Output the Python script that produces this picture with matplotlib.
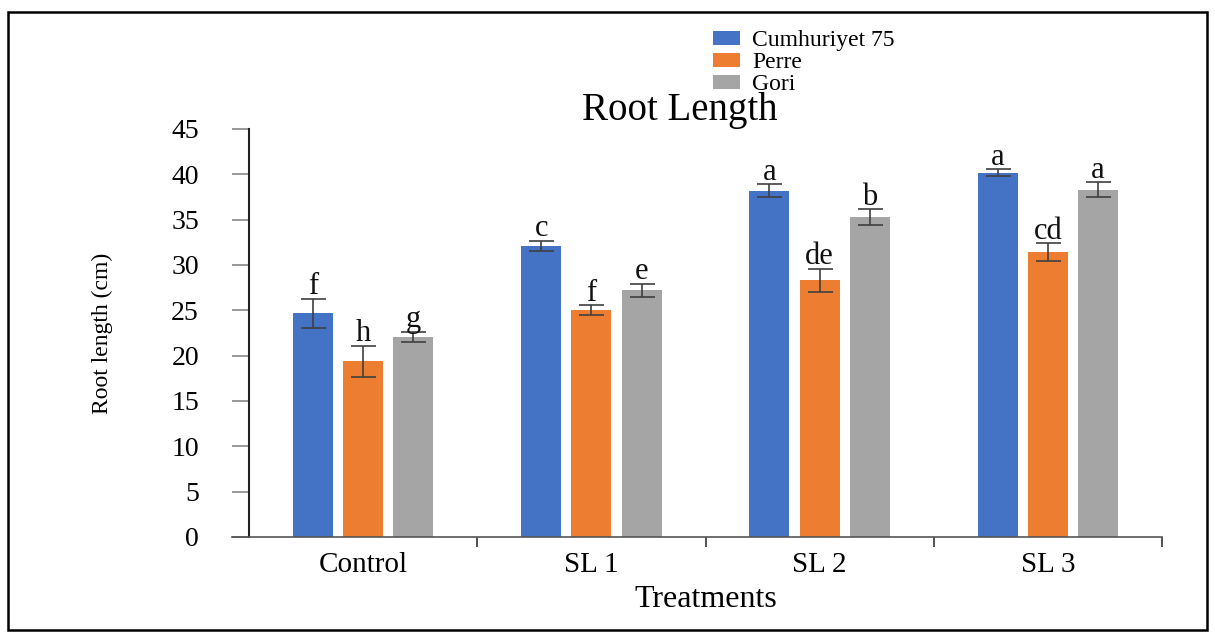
import numpy as np
import matplotlib
matplotlib.use('Agg')
from matplotlib import pyplot as plt
from matplotlib.patches import Rectangle

plt.rcParams['font.family'] = ['Liberation Serif', 'DejaVu Serif']

# data
treatments = ['Control', 'SL 1', 'SL 2', 'SL 3']
series = ['Cumhuriyet 75', 'Perre', 'Gori']
cumhuriyet = [24.7, 32.1, 38.2, 40.2]
perre = [19.4, 25.0, 28.3, 31.4]
gori = [22.1, 27.2, 35.3, 38.3]
cumhuriyet_err = [1.6, 0.6, 0.7, 0.35]
perre_err = [1.7, 0.55, 1.3, 1.0]
gori_err = [0.55, 0.75, 0.85, 0.85]
cumhuriyet_lbl = ['f', 'c', 'a', 'a']
perre_lbl = ['h', 'f', 'de', 'cd']
gori_lbl = ['g', 'e', 'b', 'a']

colors = ['#4472C4', '#ED7D31', '#A5A5A5']

fig = plt.figure(figsize=(12.15, 6.35), dpi=100)
ax = fig.add_axes([249 / 1215, 1 - 537 / 635, 913 / 1215, 408 / 635])

x = np.arange(len(treatments))
w = 0.175
off = 0.22
vals = [cumhuriyet, perre, gori]
errs = [cumhuriyet_err, perre_err, gori_err]
lbls = [cumhuriyet_lbl, perre_lbl, gori_lbl]
for i in range(3):
    xs = x + (i - 1) * off
    ax.bar(xs, vals[i], w, color=colors[i], label=series[i], zorder=2)
    ax.errorbar(xs, vals[i], yerr=errs[i], fmt='none', ecolor='#404040',
                elinewidth=1.2, capsize=9, capthick=1.2, zorder=3)
    for xx, v, e, t in zip(xs, vals[i], errs[i], lbls[i]):
        ax.text(xx, v + e - 0.3, t, ha='center', va='bottom', fontsize=22,
                color='#111111', zorder=4)

ax.set_xlim(-0.5, 3.5)
ax.set_ylim(0, 45)
ax.set_yticks(np.arange(0, 46, 5))
ax.set_xticks(x)
ax.set_xticklabels(treatments)
ax.set_xticks([0.5, 1.5, 2.5, 3.5], minor=True)

ax.spines['top'].set_visible(False)
ax.spines['right'].set_visible(False)
ax.spines['left'].set_color('#222222')
ax.spines['left'].set_linewidth(1.5)
ax.spines['bottom'].set_color('#555555')
ax.spines['bottom'].set_linewidth(1.2)
ax.spines['bottom'].set_bounds(-0.5 - 0.075, 3.5)

ax.tick_params(axis='y', length=12, width=1.2, color='#888888', pad=24,
               labelsize=20)
ax.tick_params(axis='x', which='major', length=0, pad=11, labelsize=21)
ax.tick_params(axis='x', which='minor', length=7, width=1.2, color='#333333')

ax.set_xlabel('Treatments', fontsize=23, labelpad=5)
ax.set_ylabel('Root length (cm)', fontsize=17, labelpad=42)
ax.set_title('Root Length', fontsize=28, x=0.472, pad=-6)

fig.legend(loc='upper left', bbox_to_anchor=(713 / 1215, 1 - 30 / 635),
           frameon=False, fontsize=17, labelspacing=0.05, handlelength=1.15,
           handleheight=0.55, handletextpad=0.5, borderpad=0, borderaxespad=0)

fig.patches.append(Rectangle((8 / 1215, 5 / 635), 1199 / 1215, 618 / 635,
                             transform=fig.transFigure, fill=False,
                             edgecolor='black', linewidth=1.8))

fig.savefig('out.png', dpi=100)
